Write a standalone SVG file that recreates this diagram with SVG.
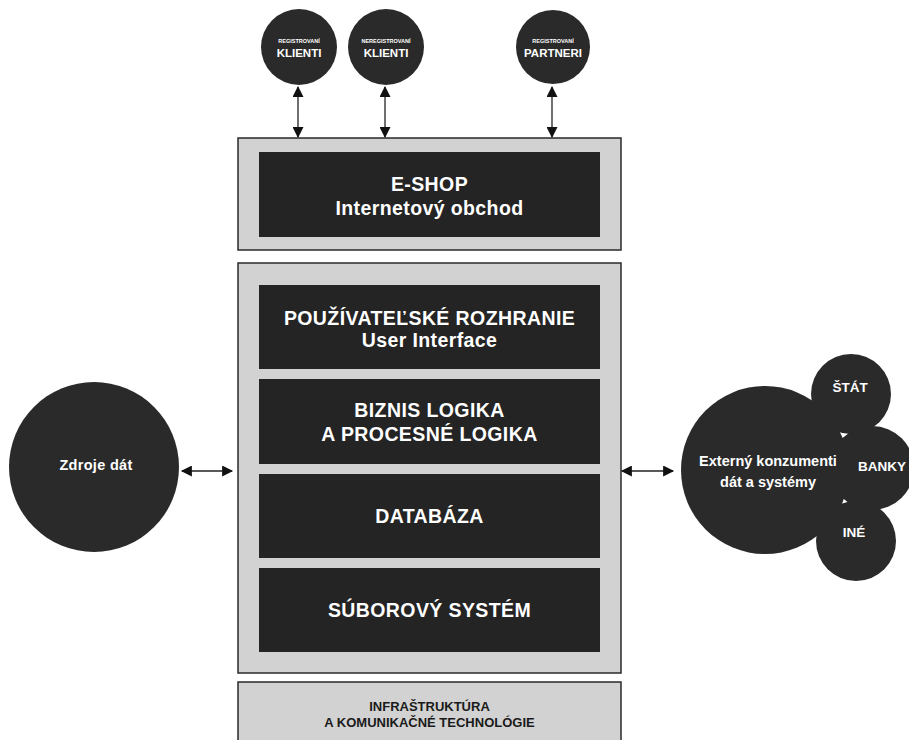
<svg xmlns="http://www.w3.org/2000/svg" width="909" height="740" viewBox="0 0 909 740">
  <style>
    .panel { fill: #d2d2d2; stroke: #2a2a2a; stroke-width: 1.5; }
    .block { fill: #242424; }
    .node { fill: #2a2a2a; }
    .lbl { font-family: "Liberation Sans", Arial, sans-serif; fill: #ffffff; text-anchor: middle; font-weight: bold; }
    .big { font-size: 19.5px; letter-spacing: 0.4px; }
    .dark { fill: #1a1a1a; }
    .link { stroke: #222; stroke-width: 1.3; fill: none; marker-start: url(#head); marker-end: url(#head); }
  </style>
  <defs>
    <marker id="head" viewBox="0 0 10 10" refX="9" refY="5" markerWidth="12" markerHeight="11" markerUnits="userSpaceOnUse" orient="auto-start-reverse">
      <path d="M0,0 L10,5 L0,10 z" fill="#111"/>
    </marker>
  </defs>
  <rect width="909" height="740" fill="#ffffff"/>

  <!-- top actors -->
  <g id="reg-klienti">
    <circle class="node" cx="299" cy="47" r="38"/>
    <text class="lbl" x="299" y="43" font-size="5.5">REGISTROVANÍ</text>
    <text class="lbl" x="299" y="57" font-size="11.5">KLIENTI</text>
  </g>
  <g id="nereg-klienti">
    <circle class="node" cx="386" cy="47" r="38"/>
    <text class="lbl" x="386" y="43" font-size="5.5">NEREGISTROVANÍ</text>
    <text class="lbl" x="386" y="57" font-size="11.5">KLIENTI</text>
  </g>
  <g id="reg-partneri">
    <circle class="node" cx="553" cy="47" r="37"/>
    <text class="lbl" x="553" y="43" font-size="5.5">REGISTROVANÍ</text>
    <text class="lbl" x="553" y="57" font-size="11.5">PARTNERI</text>
  </g>

  <!-- e-shop -->
  <g id="eshop">
    <rect class="panel" x="238" y="138" width="383" height="112"/>
    <rect class="block" x="259" y="152" width="341" height="85"/>
    <text class="lbl big" x="429.5" y="191">E-SHOP</text>
    <text class="lbl big" x="429.5" y="215">Internetový obchod</text>
  </g>

  <!-- application stack -->
  <g id="stack">
    <rect class="panel" x="238" y="263" width="383" height="410"/>
  </g>
  <g id="ui">
    <rect class="block" x="259" y="285" width="341" height="84"/>
    <text class="lbl big" x="429.5" y="325">POUŽÍVATEĽSKÉ ROZHRANIE</text>
    <text class="lbl big" x="429.5" y="347">User Interface</text>
  </g>
  <g id="logic">
    <rect class="block" x="259" y="379" width="341" height="85"/>
    <text class="lbl big" x="429.5" y="417">BIZNIS LOGIKA</text>
    <text class="lbl big" x="429.5" y="441">A PROCESNÉ LOGIKA</text>
  </g>
  <g id="db">
    <rect class="block" x="259" y="474" width="341" height="84"/>
    <text class="lbl big" x="429.5" y="523">DATABÁZA</text>
  </g>
  <g id="fs">
    <rect class="block" x="259" y="568" width="341" height="84"/>
    <text class="lbl big" x="429.5" y="617">SÚBOROVÝ SYSTÉM</text>
  </g>

  <!-- infrastructure -->
  <g id="infra">
    <rect class="panel" x="238" y="682" width="383" height="70"/>
    <text class="lbl dark" x="429.5" y="711" font-size="13">INFRAŠTRUKTÚRA</text>
    <text class="lbl dark" x="429.5" y="727" font-size="13">A KOMUNIKAČNÉ TECHNOLÓGIE</text>
  </g>

  <!-- data sources -->
  <g id="zdroje">
    <circle class="node" cx="94" cy="467" r="85"/>
    <text class="lbl" x="96" y="470" font-size="14.5" letter-spacing="0.3">Zdroje dát</text>
  </g>

  <!-- external consumers -->
  <g id="statu">
    <circle class="node" cx="851" cy="394" r="40"/>
    <text class="lbl" x="850" y="392" font-size="13.5">ŠTÁT</text>
  </g>
  <g id="banky">
    <circle class="node" cx="872" cy="468" r="42"/>
    <text class="lbl" x="882" y="471" font-size="13.5">BANKY</text>
  </g>
  <g id="ine">
    <circle class="node" cx="856" cy="541" r="40"/>
    <text class="lbl" x="854" y="537" font-size="13.5">INÉ</text>
  </g>
  <g id="externy">
    <circle class="node" cx="765" cy="470" r="84"/>
    <text class="lbl" x="768" y="466" font-size="14.5">Externý konzumenti</text>
    <text class="lbl" x="768" y="487" font-size="14.5">dát a systémy</text>
  </g>

  <!-- connectors -->
  <g id="connectors">
    <line class="link" x1="298" y1="87" x2="298" y2="137"/>
    <line class="link" x1="385" y1="87" x2="385" y2="137"/>
    <line class="link" x1="552" y1="87" x2="552" y2="137"/>
    <line class="link" x1="182" y1="471" x2="232" y2="471"/>
    <line class="link" x1="622" y1="471" x2="673" y2="471"/>
  </g>
</svg>
